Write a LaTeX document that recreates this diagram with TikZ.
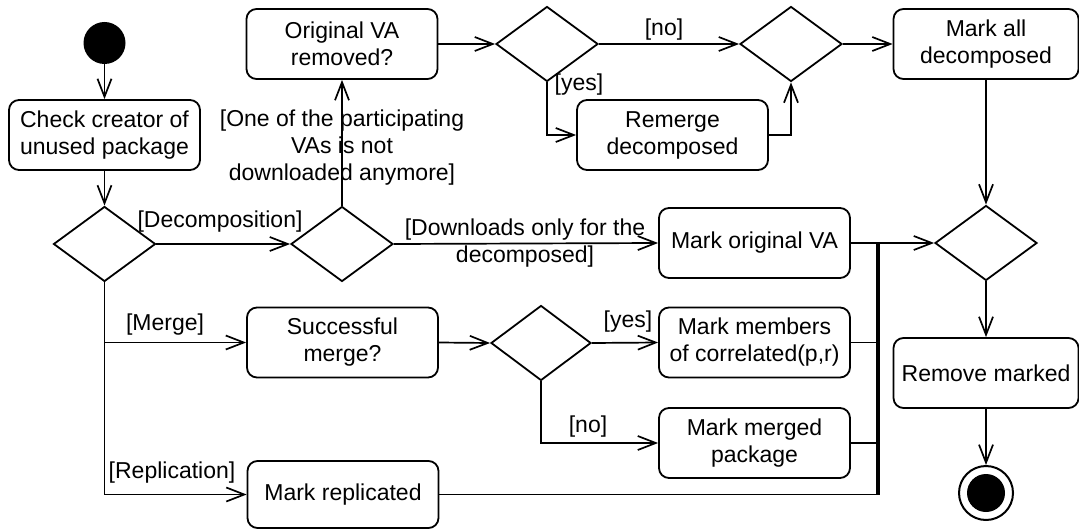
\documentclass[tikz,border=0pt]{standalone}
\usepackage{fontspec}
\setmainfont{Liberation Sans}
\usetikzlibrary{shapes.geometric,arrows.meta}
\begin{document}
\begin{tikzpicture}[x=0.5pt,y=-0.5pt,
  every node/.style={font=\fontsize{11.5}{13.5}\selectfont},
  act/.style={draw, line width=0.9pt, rounded corners=5pt, minimum width=95.5pt, minimum height=35pt, align=center, inner sep=2pt},
  dec/.style={draw, line width=0.9pt, diamond, minimum width=51pt, minimum height=37.5pt, inner sep=0pt},
  flow/.style={line width=0.85pt, -{Straight Barb[length=9pt,width=7pt,line width=0.85pt]}},
  plain/.style={line width=0.85pt},
  guard/.style={inner sep=0pt, align=center}
]
\useasboundingbox (0,0) rectangle (1079,529);
% nodes
\node[circle, fill=black, minimum size=21pt, inner sep=0pt] (start) at (104.5,43) {};
\node[act] (check) at (104.5,135) {Check creator of\\unused package};
\node[dec] (d1) at (104.5,244) {};
\node[dec] (d2) at (342,244) {};
\node[act] (orig) at (342,44) {Original VA\\removed?};
\node[dec] (d3) at (547,44) {};
\node[dec] (d4) at (791,44) {};
\node[act, minimum width=92.5pt] (markall) at (986,44) {Mark all\\decomposed};
\node[act] (remerge) at (672.5,135) {Remerge\\decomposed};
\node[dec] (d5) at (986,243) {};
\node[act] (markorig) at (754.5,243) {Mark original VA};
\node[act] (markmem) at (754.5,342.5) {Mark members\\of correlated(p,r)};
\node[act] (markmerged) at (754.5,443) {Mark merged\\package};
\node[dec, minimum width=50pt] (d6) at (541,343) {};
\node[act] (succ) at (342.5,342.5) {Successful\\merge?};
\node[act, minimum height=33.5pt] (markrep) at (343,494.5) {Mark replicated};
\node[act, minimum width=92.5pt] (remove) at (986,373) {Remove marked};
\node[circle, draw, line width=1pt, minimum size=27pt, inner sep=0pt] (end) at (986,493) {};
\node[circle, fill=black, minimum size=19pt, inner sep=0pt] (endin) at (end.center) {};
% junction coordinates
\coordinate (j1) at (878,243);
\coordinate (j2) at (878,342.5);
\coordinate (j3) at (878,443);
\coordinate (j4) at (878,494.5);
\coordinate (b1) at (104.5,342.5);
\coordinate (b2) at (104.5,494.5);
% connectors
\draw[flow] (start) -- (check);
\draw[flow] (check) -- (d1);
\draw[flow] (d1.east) -- (d2.west);
\draw[flow] (d2.north) -- (orig.south);
\draw[flow] (d2.east) -- (markorig.west);
\draw[flow] (orig.east) -- (d3.west);
\draw[flow] (d3.east) -- (d4.west);
\draw[flow] (d3.south) |- (remerge.west);
\draw[flow] (remerge.east) -| (d4.south);
\draw[flow] (d4.east) -- (markall.west);
\draw[flow] (markall.south) -- (d5.north);
\draw[plain] (markorig.east) -- (j1);
\draw[flow] (j1) -- (d5.west);
\draw[plain] (markmem.east) -- (j2);
\draw[plain] (markmerged.east) -- (j3);
\draw[plain] (markrep.east) -- (j4);
\draw[line width=1.6pt] (j1) -- (j4);
\draw[flow] (d5.south) -- (remove.north);
\draw[flow] (remove.south) -- (end.north);
\draw[plain] (d1.south) -- (b2);
\draw[flow] (b2) -- (markrep.west);
\draw[flow] (b1) -- (succ.west);
\draw[flow] (succ.east) -- (d6.west);
\draw[flow] (d6.east) -- (markmem.west);
\draw[flow] (d6.south) |- (markmerged.west);
% guards
\node[guard] (gdec) at (220,222) {[Decomposition]};
\node[guard] (gone) at (342,148) {[One of the participating\\VAs is not\\downloaded anymore]};
\node[guard] (gdown) at (525,243) {[Downloads only for the\\decomposed]};
\node[guard] (gno1) at (664,30) {[no]};
\node[guard] (gyes1) at (579,85) {[yes]};
\node[guard] (gmerge) at (165,325) {[Merge]};
\node[guard] (grep) at (172,473) {[Replication]};
\node[guard] (gyes2) at (628,322) {[yes]};
\node[guard] (gno2) at (588,427) {[no]};
\end{tikzpicture}
\end{document}
